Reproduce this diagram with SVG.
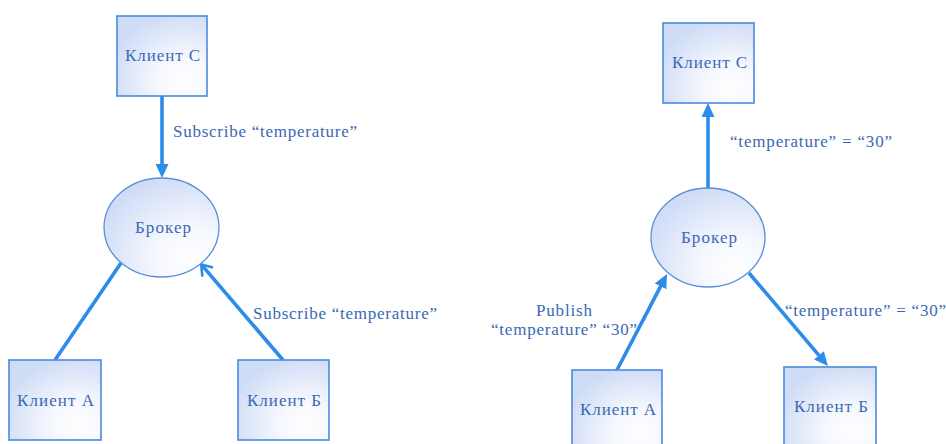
<svg xmlns="http://www.w3.org/2000/svg" width="946" height="444" viewBox="0 0 946 444">
<defs>
<radialGradient id="g" cx="0.75" cy="0.8" r="0.85" fx="0.75" fy="0.8">
<stop offset="0" stop-color="#ffffff"/>
<stop offset="0.35" stop-color="#f6f8fe"/>
<stop offset="1" stop-color="#cfdcf6"/>
</radialGradient>
<marker id="af" markerUnits="userSpaceOnUse" markerWidth="15" markerHeight="13" refX="4" refY="6.5" orient="auto">
<path d="M0,0 L14,6.5 L0,13 z" fill="#2d8bea"/>
</marker>
<marker id="ao" markerUnits="userSpaceOnUse" markerWidth="14" markerHeight="16" refX="11" refY="8" orient="auto">
<path d="M1,1 L11,8 L1,15" fill="none" stroke="#2d8bea" stroke-width="2.6"/>
</marker>
</defs>
<style>
.box{fill:url(#g);stroke:#4a8ae0;stroke-width:1.6}
.ell{fill:url(#g);stroke:#5b8fd6;stroke-width:1.3}
.t{font-family:"Liberation Serif","Times New Roman",serif;font-size:17px;fill:#3a69b3}
.n{text-anchor:middle}
.c{stroke:#2d8bea;stroke-width:3.6;fill:none}
</style>
<g id="connectors">
<line class="c" x1="162" y1="96" x2="162" y2="168" marker-end="url(#af)"/>
<line class="c" x1="55" y1="360" x2="121" y2="263"/>
<line class="c" x1="283" y1="360" x2="201.2" y2="264.4" marker-end="url(#ao)"/>
<line class="c" x1="708" y1="188" x2="708" y2="113" marker-end="url(#af)"/>
<line class="c" x1="617" y1="370" x2="662.4" y2="282.9" marker-end="url(#af)"/>
<line class="c" x1="749" y1="273" x2="821.5" y2="358.4" marker-end="url(#af)"/>
<text class="t" x="173" y="137" textLength="184">Subscribe “temperature”</text>
<text class="t" x="253" y="319" textLength="184">Subscribe “temperature”</text>
<text class="t" x="730" y="147" textLength="162">“temperature” = “30”</text>
<text class="t" x="536" y="316" textLength="56">Publish</text>
<text class="t" x="491" y="335" textLength="146">“temperature” “30”</text>
<text class="t" x="785" y="316" textLength="161">“temperature” = “30”</text>
</g>
<g id="left-client-c">
<rect class="box" x="117" y="16" width="90" height="80"/>
<text class="t n" x="162.5" y="61" textLength="75">Клиент С</text>
</g>
<g id="left-broker">
<ellipse class="ell" cx="161.5" cy="227.5" rx="57.5" ry="49.5"/>
<text class="t n" x="163" y="233" textLength="56">Брокер</text>
</g>
<g id="left-client-a">
<rect class="box" x="9" y="360" width="92" height="80"/>
<text class="t n" x="55.5" y="406" textLength="77">Клиент А</text>
</g>
<g id="left-client-b">
<rect class="box" x="238" y="360" width="91" height="80"/>
<text class="t n" x="284" y="406" textLength="74">Клиент Б</text>
</g>
<g id="right-client-c">
<rect class="box" x="663" y="23" width="91" height="80"/>
<text class="t n" x="709.5" y="68" textLength="75">Клиент С</text>
</g>
<g id="right-broker">
<ellipse class="ell" cx="708" cy="237.5" rx="57" ry="49.5"/>
<text class="t n" x="709" y="243" textLength="56">Брокер</text>
</g>
<g id="right-client-a">
<rect class="box" x="572" y="370" width="90" height="80"/>
<text class="t n" x="618" y="415" textLength="76">Клиент А</text>
</g>
<g id="right-client-b">
<rect class="box" x="784" y="367" width="92" height="80"/>
<text class="t n" x="831" y="412" textLength="74">Клиент Б</text>
</g>
</svg>
